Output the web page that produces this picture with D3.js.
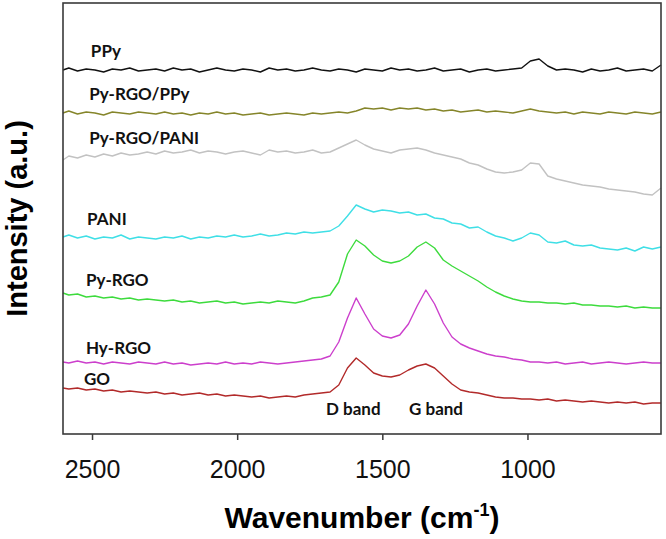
<!DOCTYPE html>
<html><head><meta charset="utf-8">
<script src="https://cdn.jsdelivr.net/npm/d3@7/dist/d3.min.js"></script>
<style>body{margin:0;background:#fff}</style>
</head><body><svg id="c" width="666" height="539"></svg>
<script>
// Wavenumber grid (cm-1)
const wavenumbers = [2600,2580,2550,2520,2490,2460,2430,2400,2370,2340,
  2310,2280,2250,2220,2190,2160,2130,2100,2070,2040,
  2010,1980,1950,1920,1890,1860,1830,1800,1770,1740,
  1710,1680,1650,1620,1590,1560,1530,1500,1470,1440,
  1410,1380,1350,1320,1290,1260,1230,1200,1170,1140,
  1110,1080,1050,1020,990,960,930,900,870,840,
  810,780,750,720,690,660,630,600,570,540];

// Offset intensities (a.u.)
const ppy = [364,366,363,365,364,362,365,364,366,363, 364,365,363,366,364,365,362,364,366,364,
  363,365,364,362,366,364,365,363,364,366, 364,363,365,364,362,365,364,363,366,364,
  365,363,364,366,363,364,365,362,364,365, 363,364,365,366,373,375,368,364,365,364,
  362,365,363,364,366,363,364,365,363,369];
const pyRgoPpy = [321,323,320,322,321,319,322,321,320,322, 321,320,322,320,321,319,321,320,322,320,
  321,319,320,321,319,320,321,320,319,321, 320,321,322,321,323,326,325,326,324,326,
  325,326,324,325,323,324,322,323,324,322, 323,322,321,323,325,323,322,321,322,320,
  322,321,320,322,321,320,322,321,320,322];
const pyRgoPani = [274,278,276,279,277,280,278,281,279,280, 282,280,283,281,282,284,281,283,282,280,
  282,283,281,279,284,282,283,281,282,284, 281,282,286,290,294,289,285,283,281,284,
  285,286,284,281,279,277,275,271,269,265, 262,261,262,264,271,270,258,255,253,251,
  249,248,247,245,244,243,242,240,239,246];
const pani = [197,199,196,198,195,197,196,199,195,197, 196,195,197,196,198,195,197,196,198,197,
  199,197,198,200,198,199,201,200,202,201, 202,203,208,218,229,225,222,224,223,221,
  222,219,220,216,215,211,210,206,207,202, 198,196,193,196,201,199,192,191,193,189,
  188,189,186,185,184,186,183,187,185,187];
const pyRgo = [141,139,140,137,138,136,137,135,136,134, 135,134,133,134,132,133,131,132,133,131,
  132,130,131,132,131,133,132,131,133,136, 137,139,152,180,194,188,179,173,171,173,
  178,187,192,186,174,168,163,158,153,147, 142,138,135,133,132,132,131,131,130,131,
  129,129,128,128,127,128,126,127,126,126];
const hyRgo = [72,71,73,71,72,70,72,71,70,72, 71,70,72,70,71,69,70,71,70,72,
  70,71,70,72,71,70,71,72,73,74, 75,78,92,116,136,120,105,98,96,99,
  110,128,144,130,111,97,90,86,83,80, 78,77,75,74,72,72,71,72,70,71,
  72,70,71,72,71,70,71,72,71,71];
const go = [46,45,46,44,45,43,44,42,43,42, 41,42,40,41,39,40,41,39,40,38,
  39,38,37,38,36,37,38,37,39,40, 41,42,49,66,76,69,61,58,57,59,
  64,68,70,66,58,50,44,42,41,39, 37,36,36,35,35,34,35,33,34,33,
  32,33,32,31,32,31,32,30,31,31];

const seriesNames = ["PPy","Py-RGO/PPy","Py-RGO/PANI","PANI","Py-RGO","Hy-RGO","GO"];
const seriesValues = [ppy, pyRgoPpy, pyRgoPani, pani, pyRgo, hyRgo, go];
const seriesColors = ["#111111","#85852a","#c2c2c2","#3fdfe6","#3ddb3d","#cc3fcc","#b22a2a"];

// Curve labels: anchor wavenumber and intensity
const labelNames = ["PPy","Py-RGO/PPy","Py-RGO/PANI","PANI","Py-RGO","Hy-RGO","GO","D band","G band"];
const labelWn    = [2504,2510,2510,2517,2521,2521,2528,1694,1408];
const labelVal   = [377,334,290,209,148,80,49,19,19];

const xTicks = [2500,2000,1500,1000];

const svg = d3.select("#c");
const L = 63, R = 661, T = 3, B = 434;
const x = d3.scaleLinear().domain([2600,540]).range([L,R]);
const y = d3.scaleLinear().domain([0,431]).range([B,T]);

const line = d3.line().x(d=>x(d[0])).y(d=>y(d[1]));
seriesValues.forEach((vals,i)=>{
  svg.append("path")
    .datum(wavenumbers.map((w,j)=>[w,vals[j]]))
    .attr("d", line)
    .attr("fill","none")
    .attr("stroke", seriesColors[i])
    .attr("stroke-width",1.4)
    .attr("stroke-linejoin","round");
});

// frame
svg.append("rect").attr("x",L).attr("y",T).attr("width",R-L).attr("height",B-T)
  .attr("fill","none").attr("stroke","#3a3a3a").attr("stroke-width",1.6);

// x axis
const ax = svg.append("g").attr("transform",`translate(0,${B})`)
  .call(d3.axisBottom(x).tickValues(xTicks).tickSize(6).tickPadding(20).tickFormat(d3.format("d")));
ax.select(".domain").remove();
ax.selectAll("line").attr("stroke","#3a3a3a").attr("stroke-width",1.5);
ax.selectAll("text").attr("font-family","'Liberation Sans', Arial, sans-serif")
  .attr("font-size",25).attr("fill","#111");

// labels
svg.append("g").selectAll("text").data(labelNames).join("text")
  .attr("x",(d,i)=>x(labelWn[i])).attr("y",(d,i)=>y(labelVal[i]))
  .attr("font-family","Lato, 'Open Sans', sans-serif").attr("font-weight",700)
  .attr("font-size",17).attr("fill","#111").text(d=>d);

// axis titles
const xt = svg.append("text").attr("x",(L+R)/2).attr("y",528).attr("text-anchor","middle")
  .attr("font-family","'Liberation Sans', Arial, sans-serif").attr("font-weight",700)
  .attr("font-size",30).attr("fill","#000");
xt.append("tspan").text("Wavenumber (cm");
xt.append("tspan").attr("font-size",18).attr("dy",-12).text("-1");
xt.append("tspan").attr("dy",12).text(")");

svg.append("text").attr("transform",`translate(27,${(T+B)/2}) rotate(-90)`)
  .attr("text-anchor","middle")
  .attr("font-family","'Liberation Sans', Arial, sans-serif").attr("font-weight",700)
  .attr("font-size",29).attr("fill","#000").text("Intensity (a.u.)");
</script></body></html>
